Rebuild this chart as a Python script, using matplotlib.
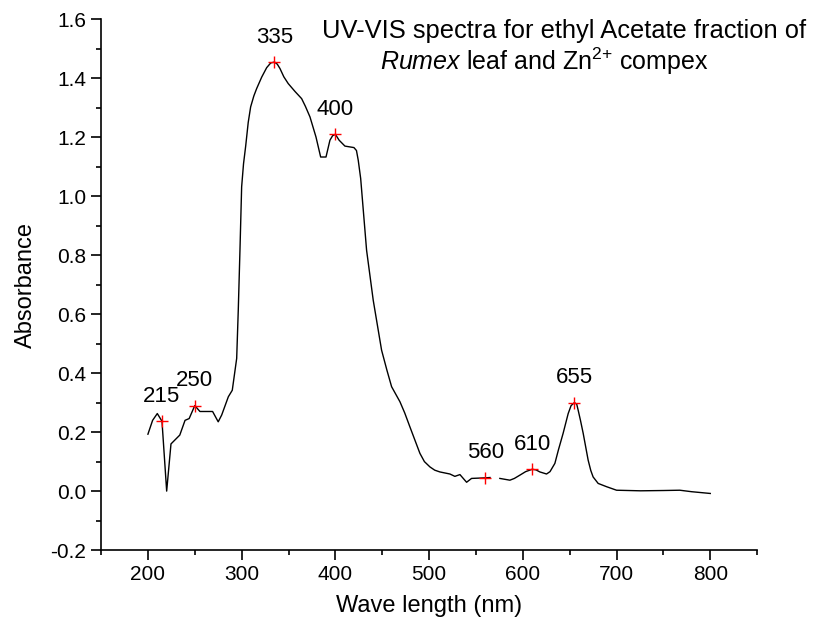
import numpy as np
import matplotlib
matplotlib.use("Agg")
import matplotlib.pyplot as plt

# spectrum (nan = break in the trace)
wavelength = [200, 205, 210, 215, 220, 224.6, 234, 239.6, 244, 250, 255.5, 269,
              275, 278.7, 285.8, 290, 294.7, 296.4, 298.2, 300, 302, 304.3,
              307, 309.6, 313, 316, 321.4, 326.7, 331, 335, 338, 340.9, 345,
              349.7, 357, 364, 368, 372.9, 379.3, 384.3, 390, 394.2, 397, 400,
              404, 410.2, 419.8, 422.5, 424.4, 427, 433.3, 440.4, 449.3, 455,
              460, 468.9, 474, 479.5, 490.2, 495, 500.9, 506, 511.5, 522.2,
              527.5, 532.9, 540, 545.3, 560, 565, np.nan, 575.5, 586.2, 591,
              596.8, 603, 610, 614, 618.2, 625.3, 629, 634.2, 638, 643, 648.4,
              651.5, 655, 657.5, 659, 661.5, 664.4, 669.7, 672.5, 675, 680.4,
              689.3, 700, 725.5, 750, 767.5, 780, 800]
absorbance = [0.193, 0.24, 0.263, 0.237, 0.0, 0.16, 0.19, 0.24, 0.246, 0.29,
              0.27, 0.27, 0.235, 0.258, 0.32, 0.342, 0.45, 0.614, 0.817, 1.032,
              1.11, 1.17, 1.25, 1.303, 1.34, 1.365, 1.404, 1.436, 1.452, 1.455,
              1.448, 1.433, 1.405, 1.382, 1.355, 1.331, 1.305, 1.269, 1.201,
              1.133, 1.133, 1.19, 1.205, 1.21, 1.19, 1.17, 1.165, 1.155, 1.122,
              1.06, 0.817, 0.647, 0.478, 0.41, 0.354, 0.303, 0.265, 0.218,
              0.128, 0.1, 0.082, 0.071, 0.065, 0.058, 0.05, 0.056, 0.03, 0.043,
              0.045, 0.046, np.nan, 0.043, 0.037, 0.043, 0.054, 0.066, 0.074,
              0.072, 0.065, 0.058, 0.066, 0.094, 0.14, 0.196, 0.263, 0.29, 0.30,
              0.295, 0.275, 0.24, 0.196, 0.105, 0.07, 0.048, 0.026, 0.015,
              0.003, 0.001, 0.002, 0.003, -0.002, -0.008]

peak_wl = [215, 250, 335, 400, 560, 610, 655]
peak_abs = [0.237, 0.29, 1.455, 1.21, 0.045, 0.074, 0.30]

plt.rcParams['font.family'] = ['Liberation Sans', 'DejaVu Sans']
plt.rcParams['mathtext.fontset'] = 'custom'
plt.rcParams['mathtext.rm'] = 'Liberation Sans'
plt.rcParams['mathtext.it'] = 'Liberation Sans:italic'
plt.rcParams['axes.unicode_minus'] = False

fig = plt.figure(figsize=(8.15, 6.33), dpi=100)
ax = fig.add_axes([0.124, 0.131, 0.805, 0.8385])

ax.plot(wavelength, absorbance, color='black', lw=1.0)
ax.plot(peak_wl, peak_abs, linestyle='none', marker='+', color='red',
        markersize=8, markeredgewidth=1.0)
for w, a in zip(peak_wl, peak_abs):
    ax.annotate(str(w), (w, a), xytext=(0, 18), textcoords='offset points',
                ha='center', va='center', fontsize=16)

ax.set_xlim(150, 850)
ax.set_ylim(-0.2, 1.6)
ax.set_xticks([200, 300, 400, 500, 600, 700, 800])
ax.set_xticks(np.arange(150, 851, 50), minor=True)
ax.set_yticks(np.arange(-0.2, 1.61, 0.2))
ax.set_yticks(np.arange(-0.2, 1.61, 0.1), minor=True)
ax.set_yticklabels([f'{v:.1f}' for v in np.arange(-0.2, 1.61, 0.2)])

for s in ['top', 'right']:
    ax.spines[s].set_visible(False)
for s in ['left', 'bottom']:
    ax.spines[s].set_linewidth(1.2)
ax.tick_params(which='major', direction='out', length=7.5, width=1.2,
               labelsize=15, pad=3)
ax.tick_params(which='minor', direction='out', length=3.8, width=1.2)

ax.set_xlabel('Wave length (nm)', fontsize=17, labelpad=8)
ax.set_ylabel('Absorbance', fontsize=17, labelpad=10)

fig.text(322 / 815, 1 - 31 / 633, 'UV-VIS spectra for ethyl Acetate fraction of',
         fontsize=18.4, ha='left', va='center')
fig.text(380 / 815, 1 - 61 / 633,
         r'$\mathit{Rumex}$ leaf and Zn$^{2{+}}$ compex',
         fontsize=18, ha='left', va='center')

fig.savefig('out.png', dpi=100)
